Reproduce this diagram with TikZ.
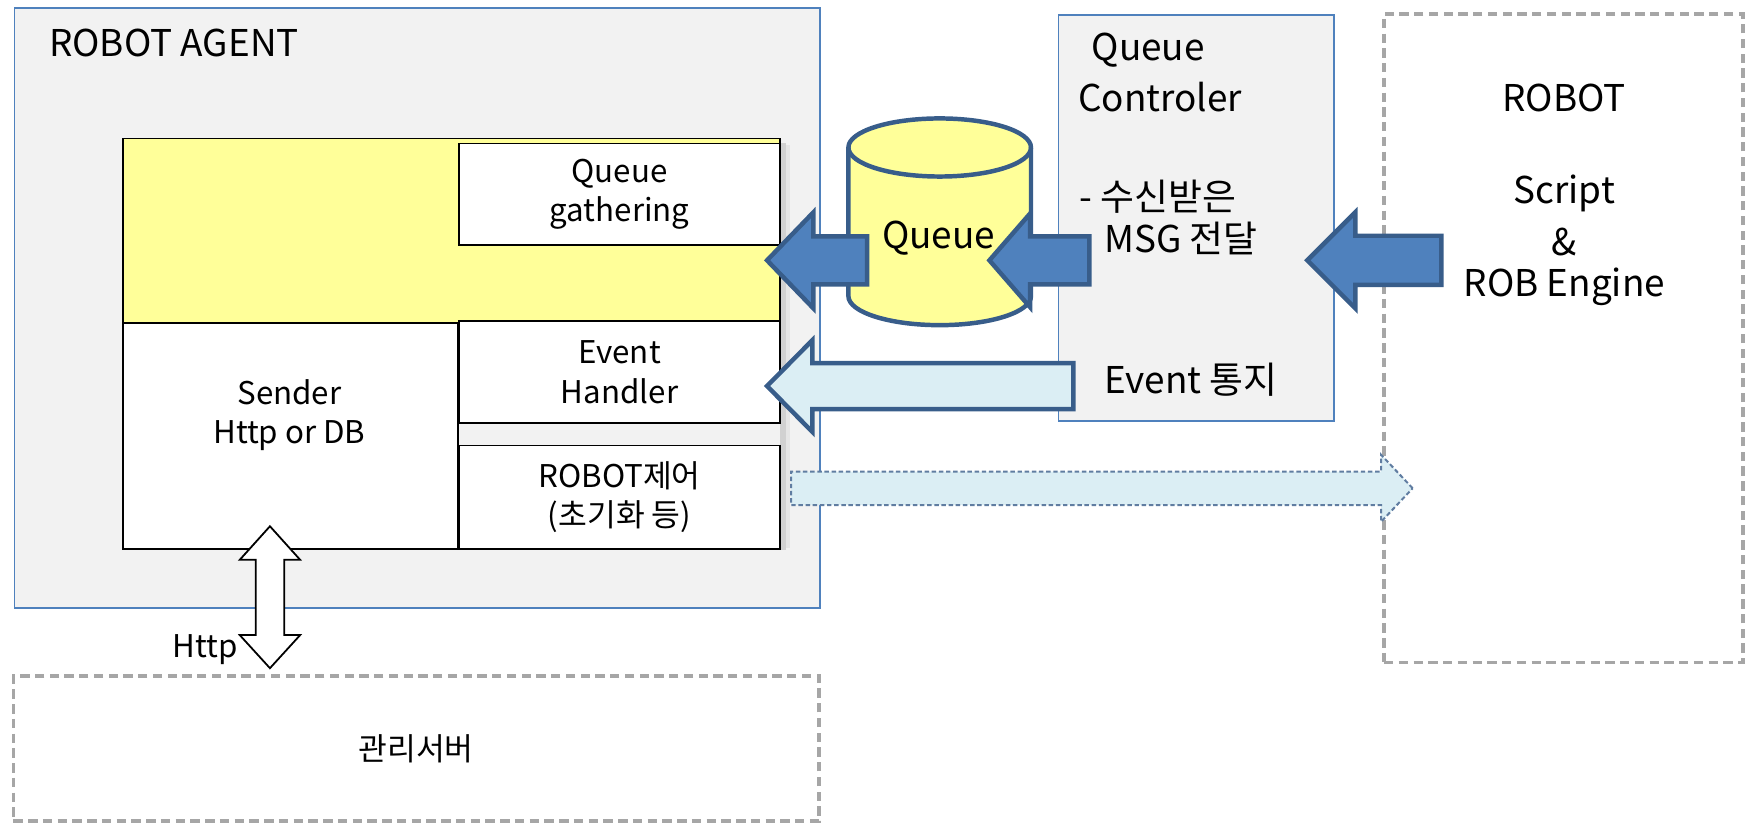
\documentclass[tikz,border=0pt]{standalone}
\usepackage{fontspec}
\setmainfont{Noto Sans CJK KR}
\usetikzlibrary{calc}
\definecolor{panel}{HTML}{F2F2F2}
\definecolor{panelbd}{HTML}{4F81BD}
\definecolor{yel}{HTML}{FFFF99}
\definecolor{bluefill}{HTML}{4F81BD}
\definecolor{bluebd}{HTML}{385D8A}
\definecolor{lightfill}{HTML}{DBEEF4}
\definecolor{grayd}{HTML}{A6A6A6}
\newcommand\blockarrow[7]{%
  \draw[#7] (#1,#2) -- (#3,{#2-#4}) -- (#3,{#2-#5}) -- (#6,{#2-#5}) -- (#6,{#2+#5}) -- (#3,{#2+#5}) -- (#3,{#2+#4}) -- cycle;}
\begin{document}
\begin{tikzpicture}[x=0.5pt,y=-0.5pt,
  panelbox/.style={draw=panelbd, fill=panel, line width=0.7pt, inner sep=0pt},
  dashbox/.style={draw=grayd, fill=white, dash pattern=on 4.2pt off 2.4pt, line width=1.6pt, inner sep=0pt},
  plainbox/.style={draw=black, fill=white, line width=0.8pt, inner sep=0pt, align=center, font=\boxfont},
  yelbox/.style={draw=black, fill=yel, line width=0.8pt, inner sep=0pt},
  blk/.style={draw=bluebd, fill=bluefill, line width=2pt, line join=miter},
  lite/.style={draw=bluebd, fill=lightfill, line width=2pt, line join=miter},
  litedash/.style={draw=bluebd!80, fill=lightfill, line width=0.9pt, dash pattern=on 2pt off 1.2pt},
  dbl/.style={draw=black, fill=white, line width=0.8pt, line join=miter},
  cyl/.style={draw=bluebd, fill=yel, line width=2pt},
  bigtxt/.style={font=\bigfont, inner sep=0pt},
  boxtxt/.style={font=\boxfont, align=center, inner sep=0pt}
]
\newcommand\bigfont{\fontsize{16.5}{21}\selectfont}
\newcommand\boxfont{\fontsize{14}{17.5}\selectfont}
\useasboundingbox (0,0) rectangle (1568,737);

% ROBOT AGENT panel
\node[panelbox, minimum width=360.5pt, minimum height=268.5pt] (agent) at (373.5,275.5) {};
\node[bigtxt, anchor=west] (agenttitle) at (43.6,38.2) {ROBOT AGENT};

% shadow to the right of the inner blocks
\fill[black!30, opacity=0.5] (698,128) rectangle (703,492);
\fill[black!15, opacity=0.5] (703,130) rectangle (707,490);

\node[yelbox, minimum width=294pt, minimum height=82.5pt] (yellow) at (404,206.5) {};
\node[plainbox, minimum width=143.5pt, minimum height=45.5pt] (qgather) at (554.5,174) {Queue\\gathering};
\node[plainbox, minimum width=150pt, minimum height=100.75pt] (sender) at (260,390.25) {};
\node[boxtxt] (sendertxt) at (259,371.6) {Sender\\Http or DB};
\node[plainbox, minimum width=143.5pt, minimum height=45.6pt] (evhandler) at (554.5,333.1) {Event\\Handler};
\node[plainbox, minimum width=143.5pt, minimum height=46.2pt] (robctl) at (554.5,445) {ROBOT제어\\(초기화 등)};

% management server
\node[dashbox, minimum width=360.5pt, minimum height=65pt, font=\boxfont] (mgmt) at (372.5,670) {관리서버};

% queue controller
\node[panelbox, minimum width=123.3pt, minimum height=181.8pt] (qctl) at (1070.7,195.2) {};
\node[bigtxt, anchor=west] (qc1) at (976.6,45) {Queue};
\node[bigtxt, anchor=west] (qc2) at (964.5,86.5) {Controler};
\node[bigtxt, anchor=west] (qc3) at (966,176) {- 수신받은};
\node[bigtxt, anchor=west] (qc4) at (988,213) {MSG 전달};
\node[bigtxt, anchor=west] (qc5) at (988,340) {Event 통지};

% robot
\node[dashbox, minimum width=160.65pt, minimum height=290.3pt] (robot) at (1399.35,302.7) {};
\node[bigtxt] (rb1) at (1400,87.3) {ROBOT};
\node[bigtxt] (rb2) at (1400,172.7) {Script};
\node[bigtxt] (rb3) at (1400,216.6) {\&};
\node[bigtxt] (rb4) at (1400,257) {ROB Engine};

% queue cylinder
\draw[cyl] (759.3,132) -- (759.3,265) .. controls (759.3,279.4) and (795.9,291) .. (841,291)
  .. controls (886.1,291) and (922.7,279.4) .. (922.7,265) -- (922.7,132)
  .. controls (922.7,117.6) and (886.1,106) .. (841,106)
  .. controls (795.9,106) and (759.3,117.6) .. (759.3,132) -- cycle;
\draw[cyl, fill=none] (759.3,132) .. controls (759.3,146.4) and (795.9,158) .. (841,158)
  .. controls (886.1,158) and (922.7,146.4) .. (922.7,132);
\node[bigtxt] (queue) at (840,213) {Queue};

% block arrows
\blockarrow{686.5}{233}{728}{43}{21.5}{776}{blk}
\blockarrow{885.5}{233}{922}{42}{21.5}{975}{blk}
\blockarrow{1170}{233}{1213}{43}{22}{1290}{blk}
\blockarrow{686.5}{345.5}{727}{41}{20.6}{960.6}{lite}
\blockarrow{1264.3}{437}{1236}{30}{15}{708}{litedash}

% Http double arrow
\draw[dbl] (241.6,471) -- (268.6,501) -- (254.3,501) -- (254.3,568.4) -- (268.6,568.4) -- (241.6,598)
  -- (214.6,568.4) -- (228.9,568.4) -- (228.9,501) -- (214.6,501) -- cycle;
\node[boxtxt] (http) at (183.4,581.8) {Http};
\end{tikzpicture}
\end{document}
